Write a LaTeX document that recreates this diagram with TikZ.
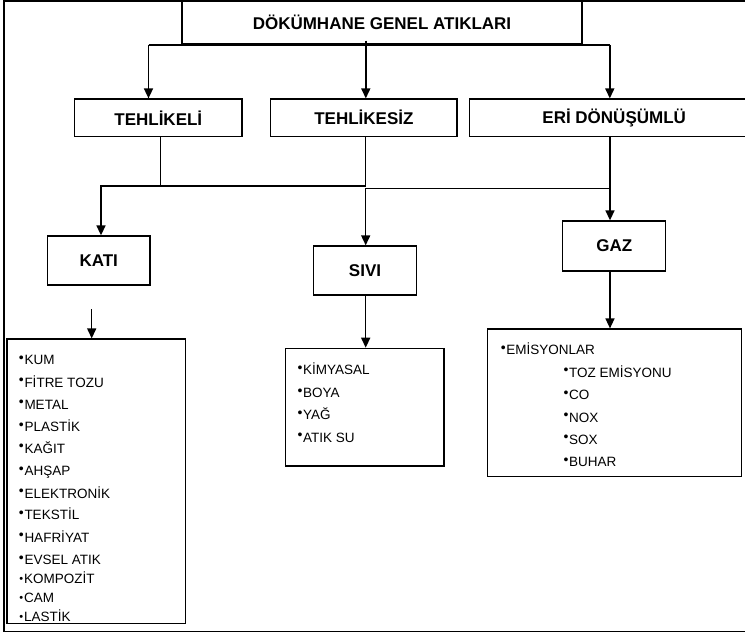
\documentclass[tikz,border=0pt]{standalone}
\usepackage{fontspec}
\setmainfont{Liberation Sans}
\usetikzlibrary{arrows.meta}
\newcommand{\bul}{\raisebox{2.2pt}{\fontsize{14}{14}\selectfont •}\hspace{0.6pt}}
\newcommand{\bulb}{\raisebox{0.6pt}{\fontsize{11}{11}\selectfont •}\hspace{0.8pt}}
\begin{document}
\begin{tikzpicture}[x=1pt,y=-1pt,
  box/.style={draw, line width=1.3pt, inner sep=0pt, font=\fontsize{17}{20}\selectfont\bfseries},
  listbox/.style={draw, line width=1.3pt, inner sep=0pt},
  item/.style={anchor=base west, inner sep=0pt, font=\fontsize{13.5}{16}\selectfont},
  arr/.style={line width=1.5pt, -{Triangle[length=10pt,width=9pt]}},
  ln/.style={line width=1.5pt},
  frame/.style={line width=1.5pt}]
\useasboundingbox (0,0) rectangle (745,634);
\clip (0,0) rectangle (745,634);
% frame
\draw[frame] (750,1) -- (4,1) -- (4,631.5) -- (750,631.5);
% header boxes
\node[box, minimum width=400pt, minimum height=43pt] (title) at (382,22.5) {DÖKÜMHANE GENEL ATIKLARI};
\node[box, minimum width=167.4pt, minimum height=37.5pt] (teh) at (158.3,117.8) {TEHLİKELİ};
\node[box, minimum width=186.2pt, minimum height=37.5pt] (tehsiz) at (363.9,117.8) {TEHLİKESİZ};
\node[box, minimum width=289.6pt, minimum height=37.5pt] (eri) at (614.2,117.8) {ERİ DÖNÜŞÜMLÜ};
\node[box, minimum width=102.7pt, minimum height=49pt] (kati) at (98.7,260.5) {KATI};
\node[box, minimum width=103pt, minimum height=49pt] (sivi) at (365,270.5) {SIVI};
\node[box, minimum width=103pt, minimum height=50pt] (gaz) at (614.3,246) {GAZ};
% list boxes
\node[listbox, minimum width=178.7pt, minimum height=284.5pt] (katilist) at (96.3,481.3) {};
\node[listbox, minimum width=158.3pt, minimum height=117.7pt] (sivilist) at (364.9,407.2) {};
\node[listbox, minimum width=254.4pt, minimum height=147.7pt] (gazlist) at (614.5,402.9) {};
% items
\foreach \t/\yy [count=\i] in {KUM/360, FİTRE TOZU/382.3, METAL/404.3, PLASTİK/426.7, KAĞIT/448.3, AHŞAP/470.7, ELEKTRONİK/493.3, TEKSTİL/515, HAFRİYAT/537.3, EVSEL ATIK/560}
  \node[item] (k\i) at (18.8,\yy+4.8) {\bul\t};
\foreach \t/\yy [count=\i] in {KOMPOZİT/578.3, CAM/597.7, LASTİK/616.7}
  \node[item] (kb\i) at (19.3,\yy+4.8) {\bulb\t};
\foreach \t/\yy [count=\i] in {KİMYASAL/370, BOYA/392.7, YAĞ/415, ATIK SU/437.3}
  \node[item] (s\i) at (297.4,\yy+4.8) {\bul\t};
\node[item] (g0) at (500.6,350+4.8) {\bul EMİSYONLAR};
\foreach \t/\yy [count=\i] in {TOZ EMİSYONU/372.3, CO/395, NOX/417.3, SOX/439.3, BUHAR/461.7}
  \node[item] (g\i) at (563.3,\yy+4.8) {\bul\t};
% junction coordinates
\coordinate (jL) at (148.5,45);
\coordinate (jM) at (365.8,45);
\coordinate (jR) at (609.8,45);
\coordinate (a0) at (101,186);
\coordinate (a1) at (160.5,186);
\coordinate (a2) at (365.7,186);
\coordinate (b1) at (365.7,188.5);
\coordinate (b2) at (610,188.5);
\coordinate (c0) at (91.7,309);
% connectors from title
\draw[ln] (jL) -- (jR);
\draw[arr] (jL) -- (teh.north -| jL);
\draw[arr] (title.south -| jM) ++(0,-4) -- (tehsiz.north -| jM);
\draw[arr] (jR) -- (eri.north -| jR);
% second level
\draw[ln] (teh.south -| a1) -- (a1);
\draw[ln] (tehsiz.south -| a2) -- (a2);
\draw[arr] (a2) -- (a0) -- (kati.north -| a0);
\draw[arr] (eri.south -| b2) -- (gaz.north -| b2);
\draw[arr] (b2) -- (b1) -- (sivi.north -| b1);
% to lists
\draw[arr] (c0) -- (katilist.north -| c0);
\draw[arr] (sivi.south -| b1) -- (sivilist.north -| b1);
\draw[arr] (gaz.south -| b2) -- (gazlist.north -| b2);
\end{tikzpicture}
\end{document}
